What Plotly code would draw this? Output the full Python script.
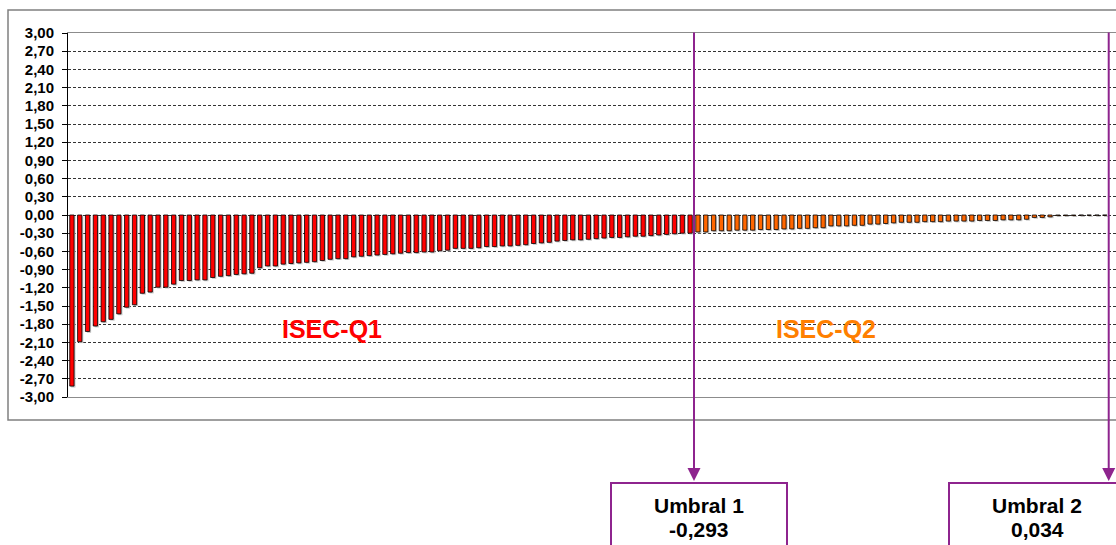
import plotly.graph_objects as go

# ---------------- data ----------------
values_q1 = [
    -2.82, -2.09, -1.92, -1.83, -1.76, -1.72, -1.63, -1.52, -1.48, -1.29,
    -1.27, -1.19, -1.19, -1.14, -1.08, -1.08, -1.07, -1.07, -1.03, -1.01,
    -1.00, -0.98, -0.97, -0.96, -0.87, -0.84, -0.84, -0.81, -0.80, -0.79,
    -0.78, -0.77, -0.75, -0.73, -0.72, -0.72, -0.69, -0.68, -0.67, -0.66,
    -0.65, -0.64, -0.63, -0.62, -0.62, -0.61, -0.61, -0.59, -0.58, -0.55,
    -0.55, -0.55, -0.54, -0.52, -0.52, -0.51, -0.51, -0.50, -0.49, -0.47,
    -0.46, -0.45, -0.43, -0.42, -0.41, -0.41, -0.40, -0.39, -0.38, -0.37,
    -0.37, -0.36, -0.35, -0.35, -0.34, -0.33, -0.32, -0.31, -0.30, -0.30,
]
values_q2 = [
    -0.28, -0.28, -0.26, -0.26, -0.26, -0.25, -0.25, -0.25, -0.24, -0.24,
    -0.24, -0.23, -0.23, -0.22, -0.22, -0.21, -0.21, -0.18, -0.18, -0.18,
    -0.17, -0.17, -0.15, -0.15, -0.14, -0.13, -0.12, -0.12, -0.12, -0.11,
    -0.11, -0.11, -0.10, -0.10, -0.10, -0.10, -0.09, -0.09, -0.09, -0.08,
    -0.08, -0.08, -0.07, -0.04, -0.04, -0.03, -0.01, -0.01, -0.01, -0.005,
    -0.005, -0.005, -0.005,
]
umbral_names = ["Umbral 1", "Umbral 2"]
umbral_values = [-0.293, 0.034]
group_labels = ["ISEC-Q1", "ISEC-Q2"]
tick_values = [3.00, 2.70, 2.40, 2.10, 1.80, 1.50, 1.20, 0.90, 0.60, 0.30, 0.00,
               -0.30, -0.60, -0.90, -1.20, -1.50, -1.80, -2.10, -2.40, -2.70, -3.00]
tick_labels = ["3,00", "2,70", "2,40", "2,10", "1,80", "1,50", "1,20", "0,90", "0,60", "0,30", "0,00",
               "-0,30", "-0,60", "-0,90", "-1,20", "-1,50", "-1,80", "-2,10", "-2,40", "-2,70", "-3,00"]

# ---------------- style ----------------
FONT = "Liberation Sans, Arial, sans-serif"
RED = "#FF0000"
ORANGE = "#FF6600"
ORANGE_TXT = "#FF7F00"
PURPLE = "#8E248E"
W, H = 1116, 545
L, R, T, B = 68, 1116, 33, 397  # plot area in px


def px2x(p):
    return (p - L) / (R - L)


def py2y(p):
    return (B - p) / (B - T)


all_values = values_q1 + values_q2
n = len(all_values)
pos = list(range(1, n + 1))
colors = [RED] * len(values_q1) + [ORANGE] * len(values_q2)

BAR_W = 0.55
SH_DX = 0.18
SH_DY = 0.022

fig = go.Figure()
# shadow
fig.add_trace(go.Bar(
    x=pos, y=all_values, base=-SH_DY, width=BAR_W, offset=-BAR_W / 2 + SH_DX,
    marker=dict(color="#c4c4c4", line=dict(width=0)), hoverinfo="skip",
))
# bars
fig.add_trace(go.Bar(
    x=pos, y=all_values, width=BAR_W, offset=-BAR_W / 2,
    marker=dict(color=colors, line=dict(color="#000000", width=0.8)),
))

fig.update_layout(
    width=W, height=H, autosize=False,
    margin=dict(l=L, r=W - R, t=T, b=H - B, pad=0),
    paper_bgcolor="white", plot_bgcolor="white",
    barmode="overlay", showlegend=False,
    font=dict(family=FONT, color="black"),
)
fig.update_xaxes(
    range=[0.5, 134.43], showticklabels=False, ticks="", showgrid=False,
    zeroline=False, showline=True, linecolor="#8c8c8c", linewidth=1, mirror=True,
)
fig.update_yaxes(
    range=[-3, 3], tickvals=tick_values, ticktext=tick_labels,
    tickfont=dict(family=FONT, size=15, color="black", weight="bold"),
    ticks="outside", ticklen=5, tickcolor="black", tickwidth=1,
    ticklabelstandoff=5,
    showgrid=True, gridcolor="#333333", gridwidth=1, griddash="3px,2px",
    zeroline=False, showline=True, linecolor="black", linewidth=1,
)

shapes = []
annotations = []
# outer chart frame
shapes.append(dict(type="rect", xref="paper", yref="paper",
                   x0=px2x(8), x1=px2x(1125), y0=py2y(420), y1=py2y(10),
                   line=dict(color="#808080", width=1.5), layer="below"))

# group labels
annotations.append(dict(x=34.3, y=-1.88, xref="x", yref="y", text=group_labels[0],
                        showarrow=False, font=dict(family=FONT, size=25, color=RED, weight="bold")))
annotations.append(dict(x=97.4, y=-1.88, xref="x", yref="y", text=group_labels[1],
                        showarrow=False, font=dict(family=FONT, size=25, color=ORANGE_TXT, weight="bold")))

# thresholds
counts = [sum(1 for v in all_values if v <= u) for u in umbral_values]
box_x = [(611, 787), (949, 1125)]
for name, val, cnt, (bx0, bx1) in zip(umbral_names, umbral_values, counts, box_x):
    xb = cnt + 0.5
    annotations.append(dict(x=xb, xref="x", y=py2y(481), yref="paper",
                            ax=0, ay=31 - 481, axref="pixel", ayref="pixel",
                            text="", showarrow=True, arrowhead=2, arrowsize=1.3,
                            arrowwidth=2, arrowcolor=PURPLE, standoff=0))
    shapes.append(dict(type="rect", xref="paper", yref="paper",
                       x0=px2x(bx0), x1=px2x(bx1), y0=py2y(570), y1=py2y(483),
                       line=dict(color=PURPLE, width=2)))
    cx = px2x((bx0 + bx1) / 2)
    label_val = f"{val:.3f}".replace(".", ",")
    annotations.append(dict(x=cx, y=py2y(505), xref="paper", yref="paper", text=name,
                            showarrow=False, xanchor="center", yanchor="middle",
                            font=dict(family=FONT, size=21, color="black", weight="bold")))
    annotations.append(dict(x=cx, y=py2y(529), xref="paper", yref="paper", text=label_val,
                            showarrow=False, xanchor="center", yanchor="middle",
                            font=dict(family=FONT, size=21, color="black", weight="bold")))

fig.update_layout(shapes=shapes, annotations=annotations)
fig.write_html(
    "out.html",
    config={"displayModeBar": False},
    post_script="document.body.style.margin='0';document.body.style.overflow='hidden';",
)
